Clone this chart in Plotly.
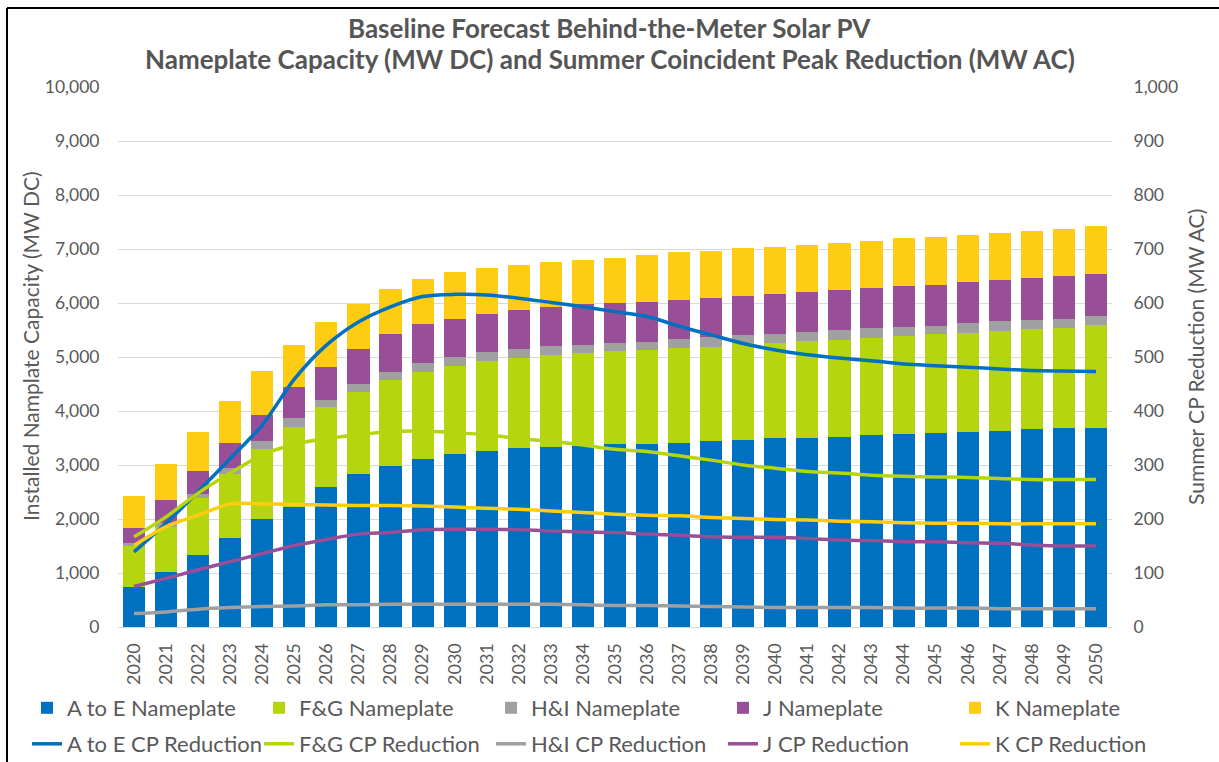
import plotly.graph_objects as go

years = [str(y) for y in range(2020, 2051)]

# Nameplate capacity (MW DC), stacked components
a_to_e_np = [746, 1013, 1340, 1654, 2006, 2230, 2587, 2825, 2981, 3105, 3204, 3259, 3309, 3339, 3345, 3383,
             3390, 3413, 3444, 3463, 3494, 3500, 3525, 3549, 3574, 3598, 3605, 3630, 3660, 3679, 3685]
fg_np = [760, 845, 1043, 1173, 1284, 1480, 1493, 1533, 1593, 1623, 1629, 1667, 1667, 1698, 1723, 1728,
         1740, 1748, 1747, 1790, 1771, 1796, 1790, 1809, 1821, 1822, 1846, 1851, 1852, 1852, 1901]
hi_np = [45, 65, 85, 125, 150, 154, 124, 148, 154, 155, 170, 172, 180, 172, 160, 150,
         154, 180, 180, 160, 161, 160, 180, 170, 167, 160, 172, 180, 173, 180, 165]
j_np = [289, 430, 414, 456, 494, 574, 611, 642, 692, 722, 698, 692, 709, 723, 747, 741,
        740, 715, 729, 723, 735, 748, 741, 741, 759, 760, 772, 771, 772, 784, 786]
k_np = [593, 667, 728, 778, 812, 792, 835, 833, 833, 833, 864, 864, 834, 821, 821, 833,
        865, 882, 864, 882, 882, 864, 882, 882, 889, 888, 864, 871, 883, 870, 889]

# Summer coincident peak reduction (MW AC)
a_to_e_cp = [139, 192, 251, 312, 374, 459, 522, 565, 593, 612, 616, 615, 609, 601, 593, 584,
             575, 557, 541, 525, 513, 504, 498, 493, 487, 484, 481, 478, 475, 474, 473]
fg_cp = [167, 204, 248, 285, 319, 338, 349, 356, 362, 363, 360, 356, 349, 344, 337, 329,
         325, 317, 309, 300, 294, 288, 285, 281, 279, 278, 277, 275, 273, 273, 273]
hi_cp = [25, 28, 33, 36, 38, 39, 41, 41, 42, 42, 42, 42, 42, 42, 41, 40,
         40, 39, 38, 37, 36, 36, 36, 36, 35, 35, 35, 34, 34, 34, 34]
j_cp = [75, 90, 106, 121, 136, 151, 162, 172, 175, 180, 181, 181, 180, 178, 176, 175,
        172, 170, 167, 166, 166, 164, 161, 160, 158, 158, 156, 155, 152, 150, 150]
k_cp = [151, 186, 207, 228, 228, 227, 226, 225, 225, 224, 222, 220, 218, 215, 212, 209,
        207, 206, 203, 201, 199, 198, 196, 195, 193, 192, 192, 191, 191, 191, 191]

title_lines = ["Baseline Forecast Behind-the-Meter Solar PV",
               "Nameplate Capacity (MW DC) and Summer Coincident Peak Reduction (MW AC)"]

names = ["A to E", "F&G", "H&I", "J", "K"]
colors = ["#0070C0", "#B5D50F", "#A0A0A0", "#994F98", "#FFCC14"]
np_series = [a_to_e_np, fg_np, hi_np, j_np, k_np]
cp_series = [a_to_e_cp, fg_cp, hi_cp, j_cp, k_cp]

FONT = "Lato, Carlito, Open Sans, sans-serif"
GRAY = "#595959"

fig = go.Figure()
for n, c, v in zip(names, colors, np_series):
    fig.add_trace(go.Bar(x=years, y=v, name=f"{n} Nameplate", marker=dict(color=c, line=dict(width=0)),
                         legend="legend"))
for n, c, v in zip(names, colors, cp_series):
    fig.add_trace(go.Scatter(x=years, y=v, name=f"{n} CP Reduction", mode="lines", yaxis="y2",
                             line=dict(color=c, width=3.5, shape="spline", smoothing=0.8),
                             legend="legend2"))

W, H = 1219, 762
ML, MR, MT, MB = 5, 5, 87, 135
gw = W - ML - MR
gh = H - MT - MB

def px(x):
    return (x - ML) / gw

def py(y):
    return (H - MB - y) / gh

LEG_W = 187

fig.update_layout(
    width=W, height=H,
    margin=dict(l=ML, r=MR, t=MT, b=MB, autoexpand=False),
    paper_bgcolor="white", plot_bgcolor="white",
    barmode="stack", bargap=0.31,
    font=dict(family=FONT, color=GRAY, size=17),
    xaxis=dict(domain=[px(118), px(1112)], type="category", tickangle=-90,
               tickfont=dict(size=18, color=GRAY), showline=True, linecolor="#D9D9D9", linewidth=1,
               ticks="outside", ticklen=8, tickcolor="rgba(0,0,0,0)", showgrid=False, automargin=False),
    yaxis=dict(range=[0, 10000], dtick=1000, tickformat=",", gridcolor="#D9D9D9", gridwidth=1,
               zeroline=False, showline=False, ticks="outside", ticklen=14, tickcolor="rgba(0,0,0,0)",
               tickfont=dict(size=17.5, color=GRAY), automargin=False),
    yaxis2=dict(range=[0, 1000], dtick=100, tickformat=",", overlaying="y", side="right", anchor="x",
                showgrid=False, zeroline=False, showline=False, ticks="outside", ticklen=17,
                tickcolor="rgba(0,0,0,0)", tickfont=dict(size=17.5, color=GRAY), automargin=False),
    legend=dict(orientation="h", x=px(27), xanchor="left", y=py(708), yanchor="middle",
                entrywidth=LEG_W, entrywidthmode="pixels", traceorder="normal",
                font=dict(size=22, color=GRAY), bgcolor="rgba(0,0,0,0)"),
    legend2=dict(orientation="h", x=px(27), xanchor="left", y=py(744), yanchor="middle",
                 entrywidth=LEG_W, entrywidthmode="pixels", traceorder="normal",
                 font=dict(size=22, color=GRAY), bgcolor="rgba(0,0,0,0)"),
    annotations=[
        dict(text=f"<b>{title_lines[0]}</b>", xref="paper", yref="paper", x=px(610), y=py(28),
             showarrow=False, font=dict(size=26, color="#555555"), xanchor="center", yanchor="middle"),
        dict(text=f"<b>{title_lines[1]}</b>", xref="paper", yref="paper", x=px(610), y=py(59),
             showarrow=False, font=dict(size=26, color="#555555"), xanchor="center", yanchor="middle"),
        dict(text="Installed Namplate Capacity (MW DC)", textangle=-90, xref="paper", yref="paper",
             x=px(30), y=py(346), showarrow=False, font=dict(size=21, color=GRAY),
             xanchor="center", yanchor="middle"),
        dict(text="Summer CP Reduction (MW AC)", textangle=-90, xref="paper", yref="paper",
             x=px(1195), y=py(357), showarrow=False, font=dict(size=21, color=GRAY),
             xanchor="center", yanchor="middle"),
    ],
    shapes=[
        dict(type="line", xref="paper", yref="paper", x0=px(7), x1=px(7), y0=py(8), y1=py(770),
             line=dict(color="black", width=2)),
        dict(type="line", xref="paper", yref="paper", x0=px(7), x1=px(1230), y0=py(8), y1=py(8),
             line=dict(color="black", width=2)),
    ],
    showlegend=True,
)

fig.write_html("out.html")
